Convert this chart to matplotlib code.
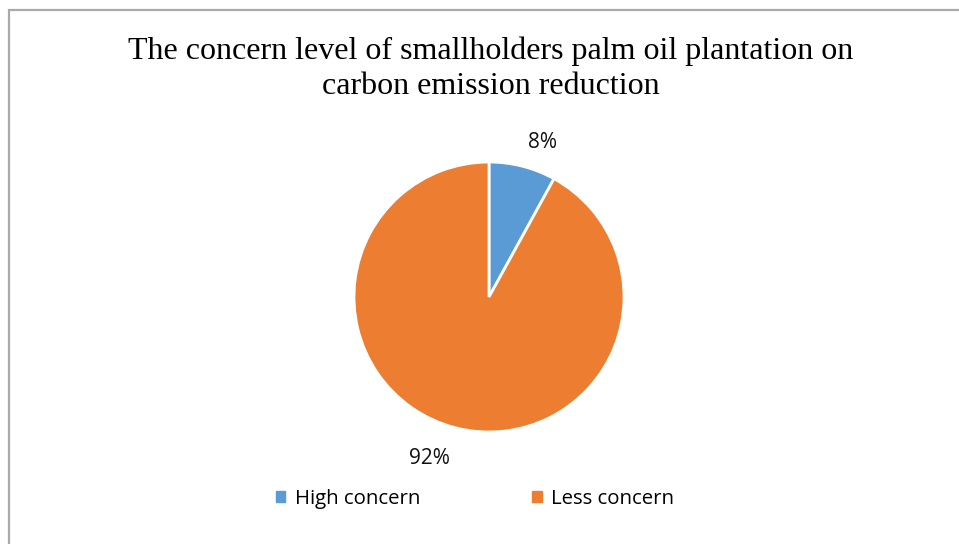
import numpy as np
import matplotlib.pyplot as plt
from matplotlib.patches import Rectangle

categories = ["High concern", "Less concern"]
shares = [8, 92]
colors = ["#5B9BD5", "#ED7D31"]

W, H = 959, 544
fig = plt.figure(figsize=(W / 100, H / 100), dpi=100)

# chart area frame (runs off the right and bottom edge)
fig.patches.append(Rectangle((9 / W, -0.1), 1.2, 1 - 10 / H + 0.1,
                             transform=fig.transFigure, fill=False,
                             edgecolor="#A9A9A9", linewidth=1.6))

fig.text(491 / W, 1 - 69 / H,
         "The concern level of smallholders palm oil plantation on\ncarbon emission reduction",
         ha="center", va="center", family="Liberation Serif", fontsize=23,
         linespacing=1.25)

cx, cy, r = 489, 297, 135
ax = fig.add_axes([(cx - r) / W, (H - cy - r) / H, 2 * r / W, 2 * r / H])
wedges, _ = ax.pie(shares, colors=colors, startangle=90, counterclock=False,
                   wedgeprops=dict(edgecolor="white", linewidth=2))
ax.set_xlim(-1, 1)
ax.set_ylim(-1, 1)
ax.set_aspect("equal")
ax.axis("off")

# percentage labels just outside each slice
nudges = [(0.10, 0.0), (-0.15, -0.05)]
for w, val, (nx, ny) in zip(wedges, shares, nudges):
    mid = np.deg2rad((w.theta1 + w.theta2) / 2)
    ax.text(1.18 * np.cos(mid) + nx, 1.18 * np.sin(mid) + ny, f"{val}%",
            ha="center", va="center", family="Open Sans", fontsize=15,
            color="#111111")

handles = [plt.Rectangle((0, 0), 1, 1, color=c) for c in colors]
fig.legend(handles, categories, loc="center", bbox_to_anchor=(475 / W, 1 - 499 / H),
           ncol=2, frameon=False, prop=dict(family="Open Sans", size=14.7),
           handlelength=0.45, handleheight=0.45, handletextpad=0.45,
           columnspacing=5.5)

fig.savefig("out.png", dpi=100)
